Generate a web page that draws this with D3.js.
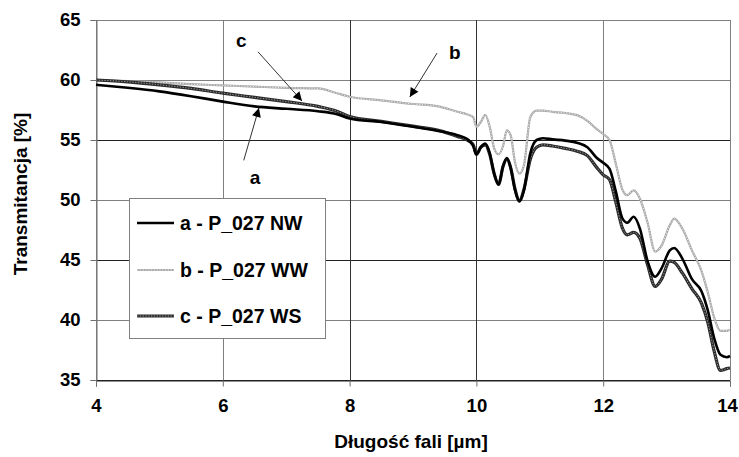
<!DOCTYPE html>
<html>
<head>
<meta charset="utf-8">
<script src="https://cdn.jsdelivr.net/npm/d3@7"></script>
<style>
  html, body { margin: 0; padding: 0; background: #fff; }
  svg { display: block; }
  text { font-family: "Liberation Sans", Arial, Helvetica, sans-serif; font-weight: bold; fill: #000; }
</style>
</head>
<body>
<script>
// ---- data ----
const wavelength = [4.0, 4.5, 5.0, 5.5, 6.0, 6.5, 7.0, 7.5, 7.8, 8.0, 8.5, 9.0, 9.4, 9.7, 9.85, 9.95, 10.0, 10.07, 10.14, 10.21, 10.28, 10.35, 10.42, 10.48, 10.54, 10.61, 10.68, 10.75, 10.85, 10.95, 11.05, 11.2, 11.4, 11.6, 11.75, 11.9, 12.0, 12.1, 12.2, 12.3, 12.38, 12.48, 12.58, 12.7, 12.82, 12.92, 13.05, 13.12, 13.25, 13.4, 13.55, 13.65, 13.75, 13.85, 13.95, 14.0];

const seriesA = [59.6, 59.35, 59.05, 58.65, 58.2, 57.8, 57.6, 57.4, 57.15, 56.8, 56.5, 56.1, 55.75, 55.4, 55.1, 54.5, 53.8, 54.4, 54.7, 53.9, 52.2, 51.3, 52.8, 53.5, 52.7, 50.8, 49.9, 50.8, 53.9, 55.0, 55.15, 55.05, 54.95, 54.75, 54.4, 53.5, 53.1, 52.6, 50.7, 48.5, 48.1, 48.6, 47.6, 44.9, 43.6, 44.3, 45.8, 46.0, 45.1, 43.4, 42.4, 40.8, 38.5, 37.1, 36.9, 37.0];

const seriesB = [60.0, 59.9, 59.8, 59.65, 59.55, 59.45, 59.35, 59.3, 58.9, 58.6, 58.3, 58.0, 57.8, 57.35, 57.15, 56.9, 56.1, 56.5, 57.1, 56.1, 54.3, 53.8, 54.5, 55.8, 55.4, 53.1, 52.2, 52.9, 56.9, 57.45, 57.45, 57.35, 57.25, 57.05, 56.6, 55.9, 55.5, 55.0, 53.0, 50.9, 50.4, 50.8, 50.1, 48.1, 45.7, 46.2, 47.9, 48.45, 47.6, 45.8, 44.1, 42.3, 40.2, 39.1, 39.1, 39.2];

const seriesC = [60.0, 59.85, 59.6, 59.3, 58.9, 58.55, 58.2, 57.8, 57.4, 56.95, 56.55, 56.15, 55.8, 55.3, 55.0, 54.6, 53.8, 54.4, 54.6, 53.8, 52.2, 51.3, 52.8, 53.4, 52.7, 50.9, 49.9, 50.9, 53.4, 54.4, 54.6, 54.5, 54.3, 54.05, 53.7, 52.7, 52.1, 51.7, 49.8, 47.7, 47.1, 47.3, 46.8, 44.6, 42.8, 43.4, 44.9, 44.8, 43.9, 42.6, 41.4, 39.8, 37.4, 35.8, 35.95, 36.0];

const seriesNames = ["a - P_027 NW", "b - P_027 WW", "c - P_027 WS"];
const xTicks = [4, 6, 8, 10, 12, 14];
const yTicks = [35, 40, 45, 50, 55, 60, 65];
const xTitle = "Długość fali [µm]";
const yTitle = "Transmitancja [%]";

// annotation labels with arrows, in data coordinates
const annotLabels = ["c", "a", "b"];
const annotLabelX = [6.29, 6.51, 9.66];
const annotLabelY = [63.3, 51.9, 62.3];
const arrowFromX = [6.555, 6.33, 9.38];
const arrowFromY = [62.35, 53.3, 62.25];
const arrowToX = [7.25, 6.57, 8.95];
const arrowToY = [58.25, 57.67, 58.58];

// ---- layout ----
const W = 739, H = 457;
const mLeft = 96, mRight = 730, mTop = 20, mBottom = 380;

const svg = d3.select("body").append("svg").attr("width", W).attr("height", H);

const x = d3.scaleLinear().domain([4, 14]).range([mLeft, mRight]);
const y = d3.scaleLinear().domain([35, 65]).range([mBottom, mTop]);

const darkH = new Set([55, 45, 35]);
const darkV = new Set([8, 10]);

// gridlines
svg.append("g").selectAll("line").data(yTicks).join("line")
  .attr("x1", mLeft).attr("x2", mRight)
  .attr("y1", d => Math.round(y(d)) + 0.5).attr("y2", d => Math.round(y(d)) + 0.5)
  .attr("stroke", d => darkH.has(d) ? "#222" : "#808080").attr("stroke-width", 1);
svg.append("g").selectAll("line").data(xTicks).join("line")
  .attr("y1", mTop).attr("y2", mBottom)
  .attr("x1", d => Math.round(x(d)) + 0.5).attr("x2", d => Math.round(x(d)) + 0.5)
  .attr("stroke", d => darkV.has(d) ? "#333" : "#808080").attr("stroke-width", 1);

// axes
const yAxis = d3.axisLeft(y).tickValues(yTicks).tickSize(6).tickPadding(10).tickFormat(d3.format("d"));
const xAxis = d3.axisBottom(x).tickValues(xTicks).tickSize(6).tickPadding(12).tickFormat(d3.format("d"));

const gy = svg.append("g").attr("transform", `translate(${mLeft + 0.5},0)`).call(yAxis);
const gx = svg.append("g").attr("transform", `translate(0,${mBottom + 0.5})`).call(xAxis);
[gy, gx].forEach(g => {
  g.select(".domain").attr("stroke", "#707070");
  g.selectAll(".tick line").attr("stroke", "#707070");
  g.selectAll(".tick text").attr("font-size", 18.5).attr("font-family", "Liberation Sans, Arial, sans-serif")
    .attr("font-weight", "bold").attr("fill", "#000");
});
gx.select(".domain").attr("stroke", "#222");
// keep the last x label inside the picture
gx.selectAll(".tick text").filter(d => d === 14).attr("dx", -3);

// axis titles
svg.append("text").attr("x", (mLeft + mRight) / 2 - 2).attr("y", 448)
  .attr("text-anchor", "middle").attr("font-size", 19).text(xTitle);
svg.append("text").attr("transform", `translate(27,${(mTop + mBottom) / 2 - 6}) rotate(-90)`)
  .attr("text-anchor", "middle").attr("font-size", 19).text(yTitle);

// lines
const mk = vals => d3.line().x((d, i) => x(wavelength[i])).y(d => y(d)).curve(d3.curveMonotoneX)(vals);

const plot = svg.append("g");
function drawStyled(g, dPath, k) {
  if (k === 0) {
    g.append("path").attr("d", dPath).attr("fill", "none").attr("stroke", "#000").attr("stroke-width", 2.6).attr("stroke-linejoin", "round");
  } else if (k === 1) {
    g.append("path").attr("d", dPath).attr("fill", "none").attr("stroke", "#a8a8a8").attr("stroke-width", 2.2);
    g.append("path").attr("d", dPath).attr("fill", "none").attr("stroke", "#f4f4f4").attr("stroke-width", 0.9).attr("stroke-dasharray", "1.2,1.6");
  } else {
    g.append("path").attr("d", dPath).attr("fill", "none").attr("stroke", "#2a2a2a").attr("stroke-width", 3.2).attr("stroke-linejoin", "round");
    g.append("path").attr("d", dPath).attr("fill", "none").attr("stroke", "#9a9a9a").attr("stroke-width", 1).attr("stroke-dasharray", "1.3,1.5");
  }
}
const allSeries = [seriesA, seriesB, seriesC];
// draw order: b first, then c, then a on top
[1, 2, 0].forEach(k => drawStyled(plot, mk(allSeries[k]), k));

// legend
const lg = svg.append("g");
lg.append("rect").attr("x", 129.5).attr("y", 198.5).attr("width", 196).attr("height", 140)
  .attr("fill", "#fff").attr("stroke", "#808080").attr("stroke-width", 1);
const legY = [223, 270, 316];
seriesNames.forEach((name, k) => {
  const p = `M137,${legY[k]}L174,${legY[k]}`;
  drawStyled(lg, p, k);
  lg.append("text").attr("x", 180).attr("y", legY[k]).attr("dy", "0.35em")
    .attr("font-size", 19.5).text(name);
});

// annotations
const defs = svg.append("defs");
defs.append("marker").attr("id", "arr").attr("viewBox", "0 0 10 10").attr("refX", 10).attr("refY", 5)
  .attr("markerWidth", 11).attr("markerHeight", 9).attr("markerUnits", "userSpaceOnUse").attr("orient", "auto")
  .append("path").attr("d", "M0,0L10,5L0,10Z").attr("fill", "#000");
const an = svg.append("g");
annotLabels.forEach((t, i) => {
  an.append("line").attr("x1", x(arrowFromX[i])).attr("y1", y(arrowFromY[i]))
    .attr("x2", x(arrowToX[i])).attr("y2", y(arrowToY[i]))
    .attr("stroke", "#333").attr("stroke-width", 1).attr("marker-end", "url(#arr)");
  an.append("text").attr("x", x(annotLabelX[i])).attr("y", y(annotLabelY[i])).attr("dy", "0.35em")
    .attr("text-anchor", "middle").attr("font-size", 19).text(t);
});
</script>
</body>
</html>
